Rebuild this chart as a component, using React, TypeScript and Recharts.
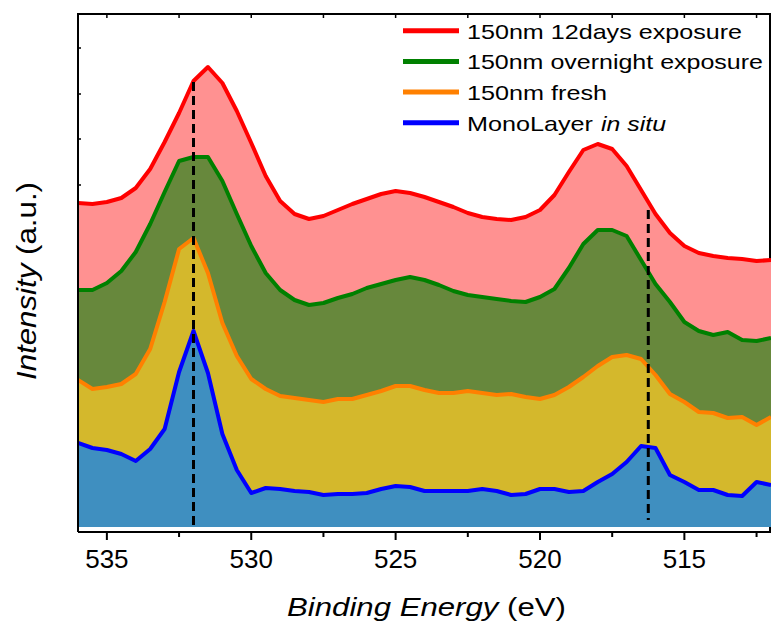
import { AreaChart, Area, XAxis, YAxis, ReferenceLine } from 'recharts';

// binding energy grid (eV), high -> low
const ENERGY = [
  536, 535.5, 535, 534.5, 534, 533.5, 533, 532.5, 532, 531.5,
  531, 530.5, 530, 529.5, 529, 528.5, 528, 527.5, 527, 526.5,
  526, 525.5, 525, 524.5, 524, 523.5, 523, 522.5, 522, 521.5,
  521, 520.5, 520, 519.5, 519, 518.5, 518, 517.5, 517, 516.5,
  516, 515.5, 515, 514.5, 514, 513.5, 513, 512.5, 512,
];

// intensities (a.u., offset for display)
const DAYS12 = [
  324, 323, 325, 329, 339, 358, 385, 414, 446, 460,
  444, 416, 384, 351, 326, 313, 308, 311, 317, 323,
  328, 333, 336, 334, 330, 325, 320, 314, 310, 308,
  307, 310, 317, 332, 355, 377, 383, 378, 361, 337,
  313, 294, 281, 274, 271, 269, 268, 266, 267,
];
const OVERNIGHT = [
  237, 237, 244, 256, 275, 303, 335, 366, 370, 370,
  346, 313, 281, 254, 237, 227, 222, 224, 229, 233,
  239, 243, 247, 250, 247, 242, 236, 232, 230, 228,
  226, 225, 230, 238, 259, 283, 297, 297, 291, 267,
  243, 225, 205, 196, 192, 195, 187, 186, 189,
];
const FRESH = [
  147, 138, 140, 143, 153, 178, 225, 278, 289, 254,
  204, 171, 148, 138, 131, 129, 127, 125, 128, 128,
  132, 136, 141, 141, 137, 134, 134, 136, 134, 132,
  133, 130, 128, 132, 140, 150, 161, 170, 172, 168,
  152, 133, 125, 115, 114, 109, 110, 102, 110,
];
const MONO = [
  84, 79, 77, 73, 66, 78, 98, 155, 196, 154,
  93, 57, 34, 39, 38, 36, 35, 32, 33, 33,
  34, 38, 41, 40, 36, 36, 36, 36, 38, 36,
  32, 33, 38, 38, 35, 36, 45, 53, 65, 81,
  79, 52, 45, 37, 37, 32, 31, 45, 42,
];

const LABELS = ['150nm 12days exposure', '150nm overnight exposure', '150nm fresh', 'MonoLayer'];

const X_DOMAIN = [512, 536];
const Y_DOMAIN = [-5, 513];
const X_TICKS = [535, 532.5, 530, 527.5, 525, 522.5, 520, 517.5, 515, 512.5];
const Y_TICKS = [479, 433, 388, 342];

// dashed markers: energy, top and bottom intensity
const MARK_E = [532, 516.25];
const MARK_TOP = [445, 317];
const MARK_BOTTOM = [-3, 7];

const data = ENERGY.map((e, i) => ({
  e,
  d12: DAYS12[i],
  night: OVERNIGHT[i],
  fresh: FRESH[i],
  mono: MONO[i],
}));

const SERIES = [
  { key: 'd12', stroke: '#ff0000', fill: '#ff9191', textW: 275 },
  { key: 'night', stroke: '#008000', fill: '#67883c', textW: 296 },
  { key: 'fresh', stroke: '#ff8000', fill: '#d4b82c', textW: 140 },
  { key: 'mono', stroke: '#0000ff', fill: '#3f8fc0', textW: 126 },
];

const FONT = '"Liberation Sans", Arial, sans-serif';
const W = 772;
const H = 628;
const X_AXIS_H = 60;
const MARGIN = { top: 14, right: 1, bottom: 36, left: 0 };
const PLOT_LEFT = 78;
const PLOT_TOP = MARGIN.top;
const PLOT_RIGHT = W - MARGIN.right;
const PLOT_BOTTOM = H - MARGIN.bottom - X_AXIS_H;

const BottomTick = (props: any) => {
  const { x, payload } = props;
  const major = payload.value % 5 === 0;
  return (
    <g>
      <line x1={x} x2={x} y1={PLOT_BOTTOM} y2={PLOT_BOTTOM + (major ? 8 : 5)} stroke="#000" strokeWidth={2} />
      {/* mirrored inward tick on the top frame */}
      <line x1={x} x2={x} y1={PLOT_TOP} y2={PLOT_TOP + 4} stroke="#000" strokeWidth={1.5} />
      {major && (
        <text x={x} y={PLOT_BOTTOM + 36} textAnchor="middle" fontSize={26} fontFamily={FONT} fill="#000">
          {payload.value}
        </text>
      )}
    </g>
  );
};

const LeftTick = (props: any) => (
  <line x1={PLOT_LEFT} x2={PLOT_LEFT + 3} y1={props.y} y2={props.y} stroke="#000" strokeWidth={1.5} />
);

export default function App() {
  return (
    <div style={{ position: 'absolute', left: 0, top: 0, width: W, height: H, background: '#fff' }}>
      <AreaChart width={W} height={H} data={data} margin={MARGIN}>
        <XAxis
          dataKey="e"
          type="number"
          domain={X_DOMAIN}
          reversed
          allowDataOverflow
          ticks={X_TICKS}
          interval={0}
          tick={(p: any) => <BottomTick {...p} />}
          tickLine={false}
          axisLine={{ stroke: '#000', strokeWidth: 2 }}
          height={X_AXIS_H}
        />
        <YAxis
          type="number"
          domain={Y_DOMAIN}
          allowDataOverflow
          ticks={Y_TICKS}
          interval={0}
          tick={(p: any) => <LeftTick {...p} />}
          tickLine={false}
          axisLine={{ stroke: '#000', strokeWidth: 2 }}
          width={PLOT_LEFT}
        />

        {SERIES.map((s) => (
          <Area
            key={s.key}
            dataKey={s.key}
            type="linear"
            baseValue={0}
            stroke={s.stroke}
            strokeWidth={4}
            strokeLinejoin="round"
            fill={s.fill}
            fillOpacity={1}
            dot={false}
            activeDot={false}
            isAnimationActive={false}
          />
        ))}

        {MARK_E.map((e, i) => (
          <ReferenceLine
            key={i}
            segment={[{ x: e, y: MARK_TOP[i] }, { x: e, y: MARK_BOTTOM[i] }]}
            stroke="#000"
            strokeWidth={3}
            strokeDasharray="9 5"
            ifOverflow="visible"
          />
        ))}

        {/* right frame edge */}
        <line x1={PLOT_RIGHT - 1} x2={PLOT_RIGHT - 1} y1={PLOT_TOP} y2={PLOT_BOTTOM} stroke="#000" strokeWidth={2} />

        {/* legend */}
        <g fontFamily={FONT} fontSize={21} fill="#000">
          {SERIES.map((s, i) => {
            const cy = 30.7 + i * 30.7;
            return (
              <g key={s.key}>
                <line x1={403} x2={459} y1={cy} y2={cy} stroke={s.stroke} strokeWidth={5} />
                <text x={467} y={cy + 7.8} textLength={s.textW} lengthAdjust="spacingAndGlyphs">
                  {LABELS[i]}
                </text>
              </g>
            );
          })}
          <text x={601} y={30.7 + 3 * 30.7 + 7.8} fontStyle="italic" textLength={65} lengthAdjust="spacingAndGlyphs">
            in situ
          </text>
        </g>

        {/* axis titles */}
        <text
          x={426.5}
          y={615.5}
          textAnchor="middle"
          fontFamily={FONT}
          fontSize={25}
          fill="#000"
          textLength={279}
          lengthAdjust="spacingAndGlyphs"
        >
          <tspan fontStyle="italic">Binding Energy</tspan>
          {' (eV)'}
        </text>
        <text
          x={36}
          y={281}
          transform="rotate(-90 36 281)"
          textAnchor="middle"
          fontFamily={FONT}
          fontSize={28}
          fill="#000"
          textLength={198}
          lengthAdjust="spacingAndGlyphs"
        >
          <tspan fontStyle="italic">Intensity</tspan>
          {' (a.u.)'}
        </text>
      </AreaChart>
      {/* top frame edge as an overlay */}
      <div
        style={{
          position: 'absolute',
          left: PLOT_LEFT - 1,
          top: PLOT_TOP - 1,
          width: PLOT_RIGHT - PLOT_LEFT + 1,
          height: 0,
          borderTop: '2px solid #000',
          pointerEvents: 'none',
        }}
      />
    </div>
  );
}
